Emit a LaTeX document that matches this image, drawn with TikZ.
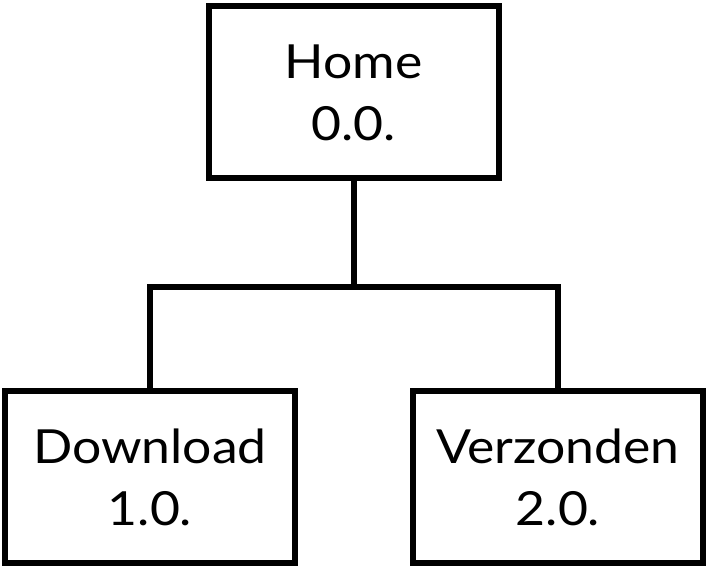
\documentclass[tikz,border=0pt]{standalone}
\usepackage{fontspec}
\setmainfont{Lato}[FakeStretch=1.1]
\begin{document}
\begin{tikzpicture}[x=1pt,y=1pt,
  pagebox/.style={draw=black, line width=6pt, fill=white, minimum width=290pt, minimum height=172pt, inner sep=0pt, align=center, font=\fontsize{47}{62}\selectfont},
  conn/.style={draw=black, line width=6pt}]
\useasboundingbox (0,0) rectangle (709,570);
\node[pagebox] (home) at (353.5,477.5) {Home\\0.0.};
\node[pagebox] (dl) at (150,93) {Download\\1.0.};
\node[pagebox] (vz) at (558,93) {Verzonden\\2.0.};
\coordinate (mid) at (353.5,283);
\draw[conn] (home.south) -- (mid);
\draw[conn] (dl.north) |- (mid) -| (vz.north);
\end{tikzpicture}
\end{document}
